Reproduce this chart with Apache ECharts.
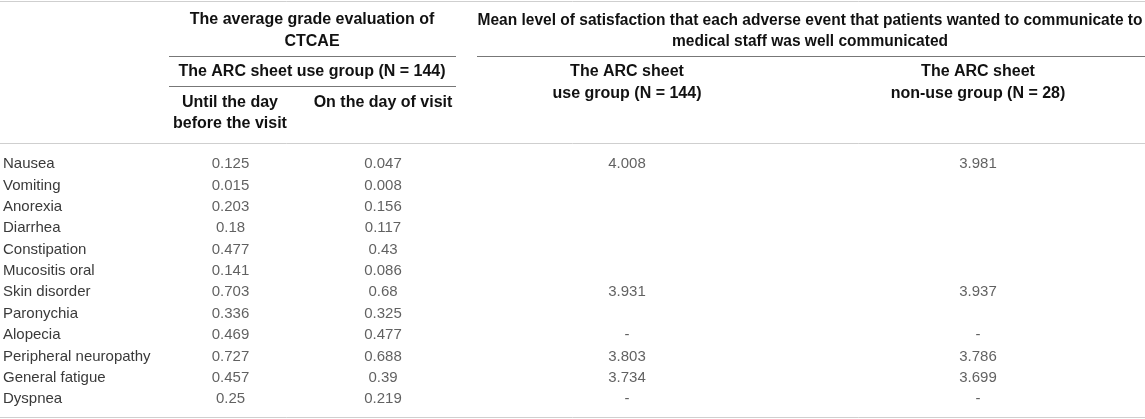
<!DOCTYPE html>
<html lang="en">
<head>
    <meta charset="UTF-8">
    <title>CTCAE / satisfaction table</title>
    <script src="https://cdn.jsdelivr.net/npm/echarts@6/dist/echarts.min.js"></script>
    <style>
        html, body { margin: 0; padding: 0; background: #fff; }
    </style>
</head>
<body>
<div id="main" style="width:1145px;height:419px;"></div>
<script type="text/javascript">
    // 表格数据
    var events = ['Nausea', 'Vomiting', 'Anorexia', 'Diarrhea', 'Constipation', 'Mucositis oral',
        'Skin disorder', 'Paronychia', 'Alopecia', 'Peripheral neuropathy', 'General fatigue', 'Dyspnea'];
    var untilDayBefore = [0.125, 0.015, 0.203, 0.18, 0.477, 0.141, 0.703, 0.336, 0.469, 0.727, 0.457, 0.25];
    var onDayOfVisit = [0.047, 0.008, 0.156, 0.117, 0.43, 0.086, 0.68, 0.325, 0.477, 0.688, 0.39, 0.219];
    // null = empty cell, '-' = dash
    var satisfactionUse = [4.008, null, null, null, null, null, 3.931, null, '-', 3.803, 3.734, '-'];
    var satisfactionNonUse = [3.981, null, null, null, null, null, 3.937, null, '-', 3.786, 3.699, '-'];
    var columns = [untilDayBefore, onDayOfVisit, satisfactionUse, satisfactionNonUse];

    // 列的左右边界 (px)
    var colBounds = [[169, 291], [306, 460], [477, 777], [811, 1145]];
    var gridTop = 153.3, gridBottom = 9;

    var fontFam = '"Liberation Sans", Arial, sans-serif';
    var headFont = 'bold 16px ' + fontFam;
    var bodyColor = '#3a3a3a';

    var grids = [], xAxes = [], yAxes = [], series = [];
    for (var c = 0; c < columns.length; c++) {
        grids.push({left: colBounds[c][0], width: colBounds[c][1] - colBounds[c][0], top: gridTop, bottom: gridBottom});
        xAxes.push({type: 'category', gridIndex: c, data: ['v'], show: false});
        yAxes.push({
            type: 'category', gridIndex: c, data: events, inverse: true,
            axisLine: {show: false}, axisTick: {show: false}, splitLine: {show: false},
            axisLabel: {
                show: c === 0,
                align: 'left',
                margin: colBounds[0][0] - 2,
                fontSize: 15,
                color: bodyColor,
                fontFamily: fontFam
            }
        });
        var items = [];
        for (var i = 0; i < events.length; i++) {
            var v = columns[c][i];
            if (v === null) continue;
            items.push({value: ['v', events[i]], name: String(v)});
        }
        series.push({
            type: 'scatter', xAxisIndex: c, yAxisIndex: c,
            symbolSize: 1, itemStyle: {color: 'rgba(0,0,0,0)'},
            silent: true,
            label: {
                show: true, position: 'inside',
                formatter: function (p) { return p.name; },
                fontSize: 15, color: bodyColor,
                fontFamily: fontFam
            },
            data: items
        });
    }

    function hline(x1, x2, y, color) {
        return {type: 'line', shape: {x1: x1, y1: y, x2: x2, y2: y}, style: {stroke: color, lineWidth: 1}, silent: true};
    }
    function htext(x, y, s, sx) {
        return {type: 'text', x: x, y: y, scaleX: sx || 1,
            style: {text: s, font: headFont, fill: '#111', align: 'center', verticalAlign: 'middle'}};
    }

    var graphics = [
        hline(0, 1145, 1.5, '#cfcfcf'),
        hline(0, 1145, 143.5, '#cfcfcf'),
        hline(0, 1145, 417.5, '#cfcfcf'),
        hline(169, 456, 56.5, '#777'),
        hline(477, 1145, 56.5, '#777'),
        hline(169, 456, 86.5, '#777'),
        htext(312, 20, 'The average grade evaluation of'),
        htext(312, 42, 'CTCAE'),
        htext(312, 72, 'The ARC sheet use group (N = 144)'),
        htext(230, 103, 'Until the day'),
        htext(230, 124, 'before the visit'),
        htext(383, 103, 'On the day of visit'),
        htext(810, 21, 'Mean level of satisfaction that each adverse event that patients wanted to communicate to', 0.97),
        htext(810, 42, 'medical staff was well communicated', 0.97),
        htext(627, 72, 'The ARC sheet'),
        htext(627, 94, 'use group (N = 144)'),
        htext(978, 72, 'The ARC sheet'),
        htext(978, 94, 'non-use group (N = 28)')
    ];

    var myChart = echarts.init(document.getElementById('main'));
    var option = {
        animation: false,
        grid: grids,
        xAxis: xAxes,
        yAxis: yAxes,
        series: series,
        graphic: graphics
    };
    myChart.setOption(option);
</script>
</body>
</html>
